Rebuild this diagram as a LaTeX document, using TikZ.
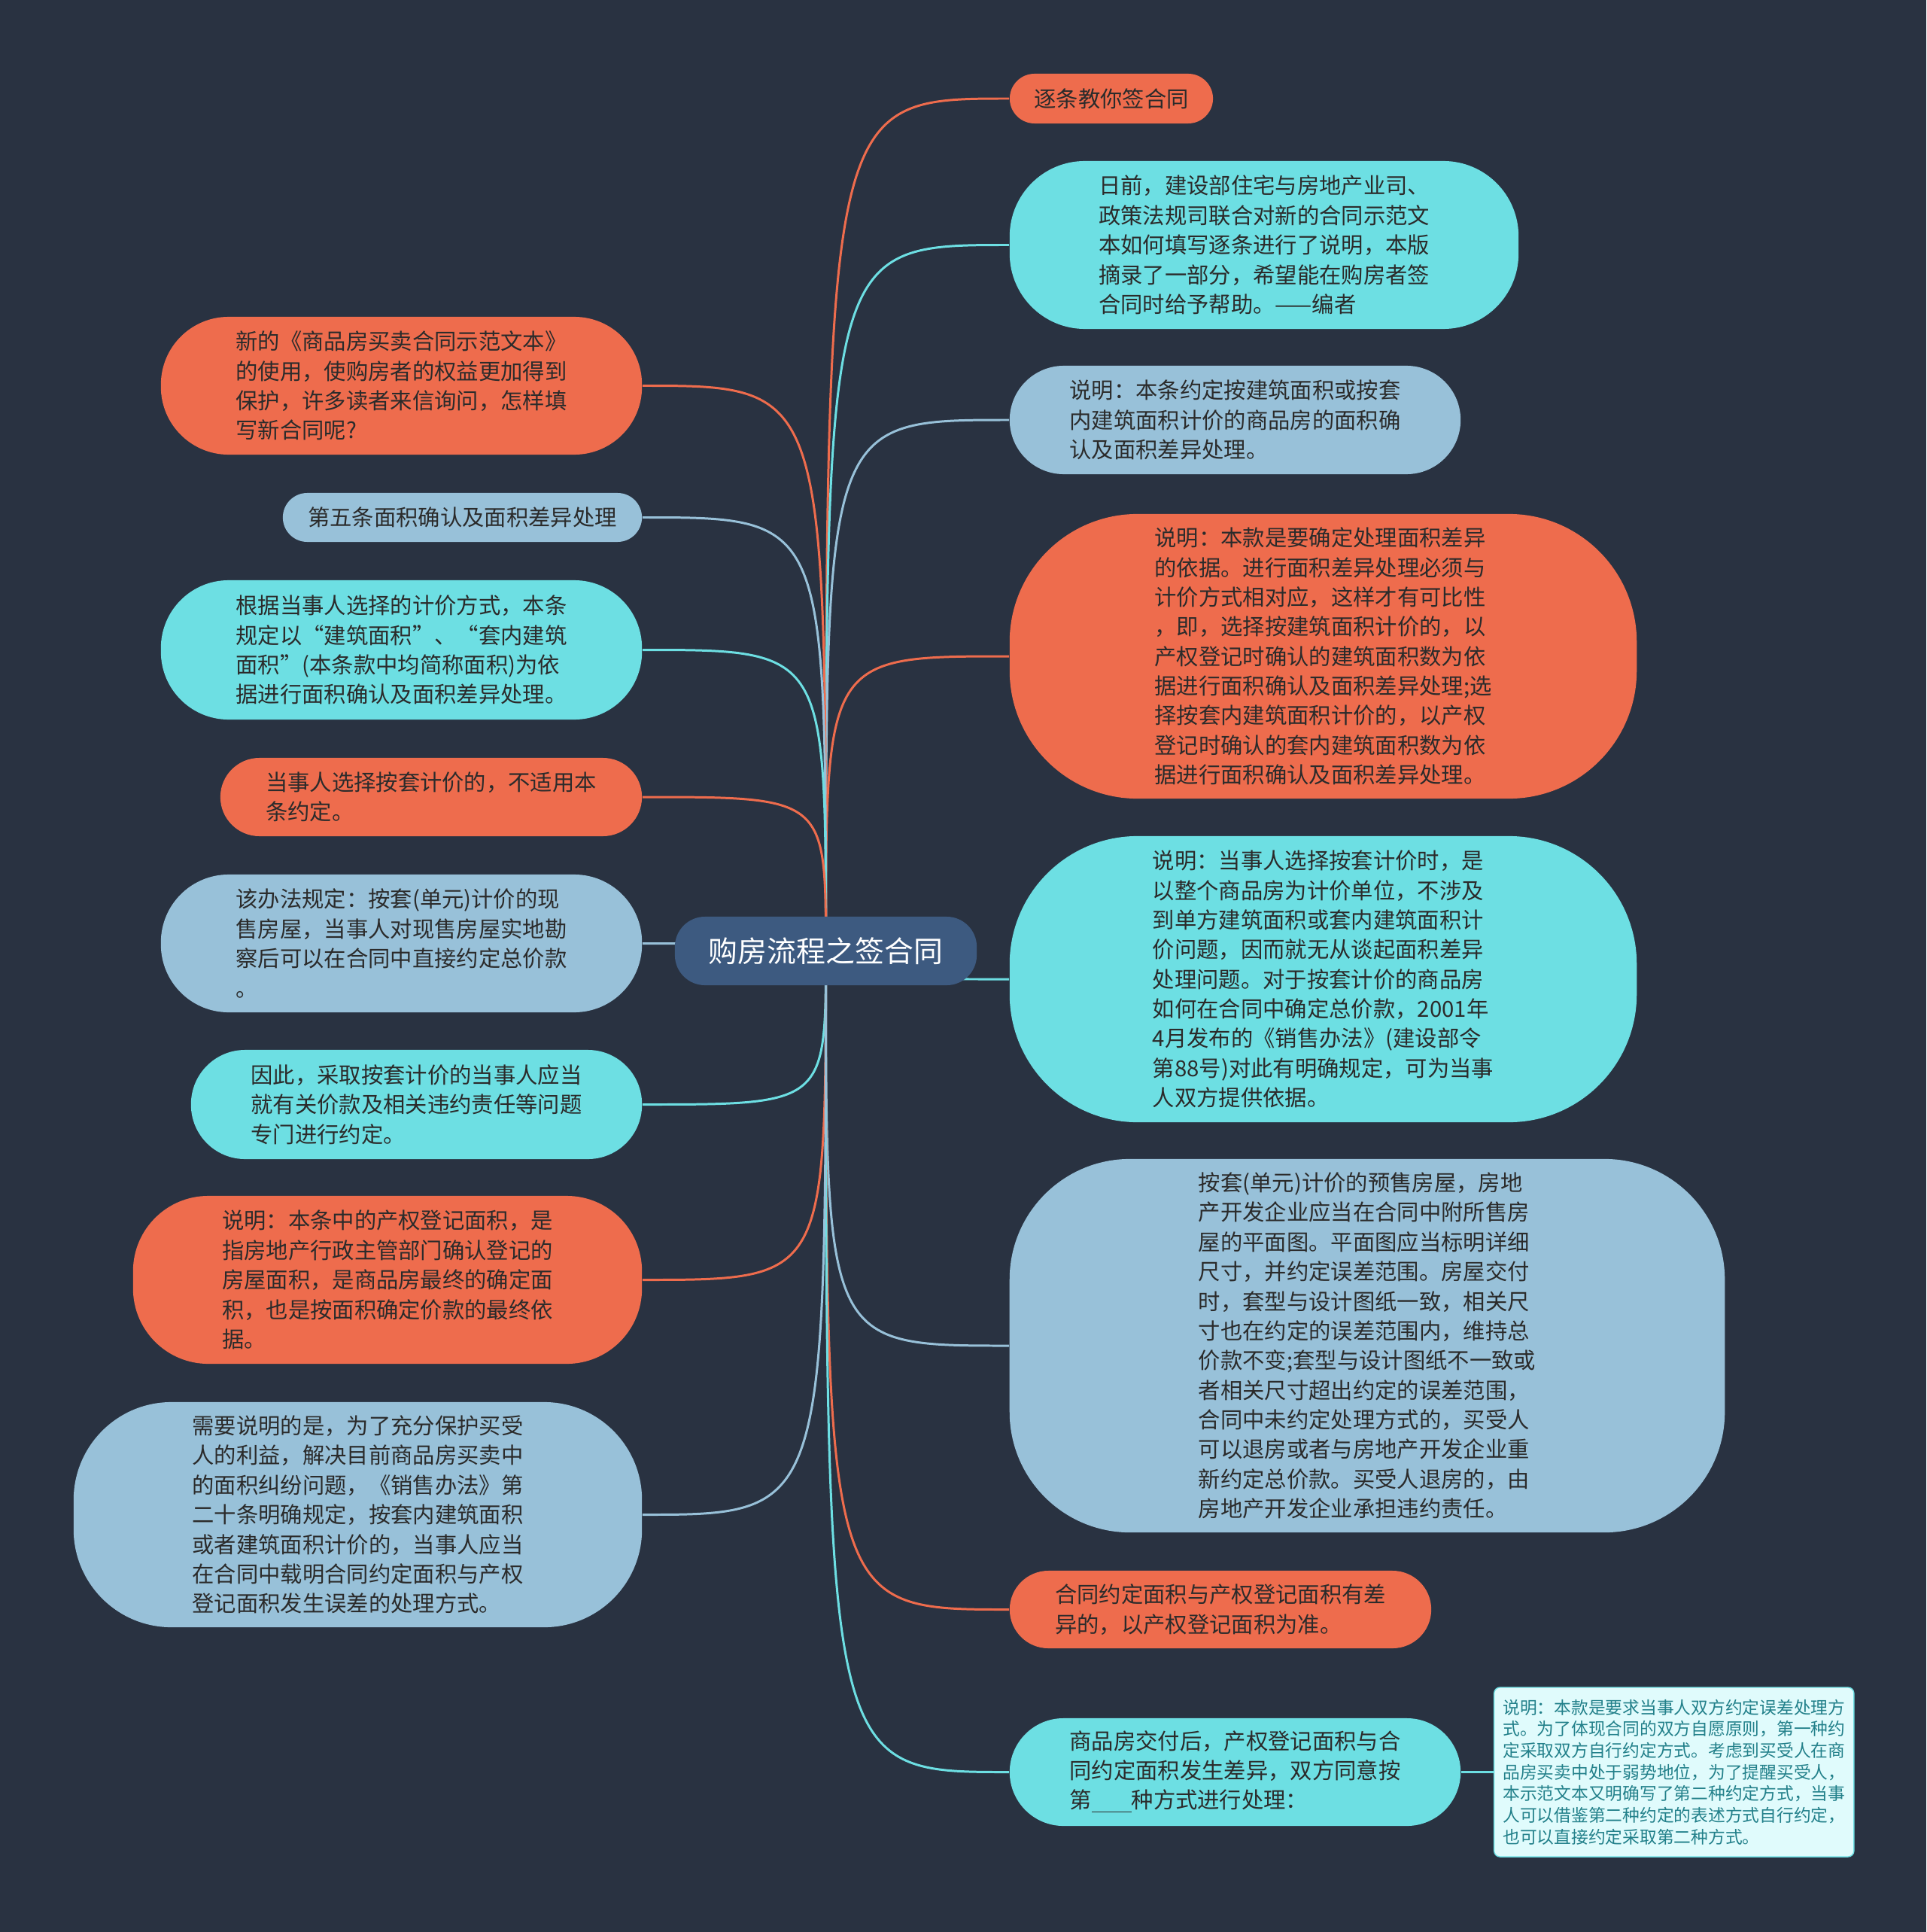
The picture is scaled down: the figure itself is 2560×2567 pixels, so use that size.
\documentclass[tikz,border=0pt]{standalone}
\usepackage{fontspec}
\setmainfont{Noto Sans CJK SC}
\usetikzlibrary{positioning}
\definecolor{bgcol}{HTML}{293241}
\definecolor{hub}{HTML}{3D5A80}
\definecolor{orng}{HTML}{EE6C4D}
\definecolor{cyn}{HTML}{6DDFE3}
\definecolor{lblue}{HTML}{98C1D9}
\definecolor{pale}{HTML}{E0FBFC}
\definecolor{ink}{HTML}{2B2B2B}
\definecolor{teal}{HTML}{22808A}
\pgfdeclarelayer{back}
\pgfdeclarelayer{links}
\pgfsetlayers{back,links,main}

\begin{document}
\begin{tikzpicture}[x=0.01cm, y=-0.01cm,
  topic/.style={rectangle, rounded corners=0.4cm, fill=hub,
    text=white, font=\fontsize{11.06}{13}\selectfont, inner sep=0pt,
    minimum width=4.01cm, minimum height=0.91cm},
  leaf/.style={rectangle, align=left, text=ink, inner sep=0pt,
    font=\fontsize{8.34}{11.2}\selectfont},
  rc/.style={rounded corners=#1},
  memo/.style={draw=cyn, fill=pale, text=teal, rounded corners=0.08cm,
    align=left, inner sep=0pt, font=\fontsize{6.47}{8.15}\selectfont,
    minimum width=4.78cm, minimum height=2.25cm},
  link/.style={line width=0.85pt}
]
\begin{pgfonlayer}{back}
  \fill[bgcol] (0,0) rectangle (2560,2567);
\end{pgfonlayer}
\useasboundingbox (0,0) rectangle (2560,2567);

\node[topic] (c) at (1097.5,1263.5) {购房流程之签合同};

% right branch
\node[leaf, fill=orng, rc=0.33cm, minimum width=2.70cm, minimum height=0.66cm] (r1) at (1477,131) {逐条教你签合同};
\node[leaf, fill=cyn, rc=1.0cm, minimum width=6.76cm, minimum height=2.23cm] (r2) at (1680,325.5)
  {日前，建设部住宅与房地产业司、\\政策法规司联合对新的合同示范文\\本如何填写逐条进行了说明，本版\\摘录了一部分，希望能在购房者签\\合同时给予帮助。——编者};
\node[leaf, fill=lblue, rc=0.72cm, minimum width=5.99cm, minimum height=1.44cm] (r3) at (1641.5,558)
  {说明：本条约定按建筑面积或按套\\内建筑面积计价的商品房的面积确\\认及面积差异处理。};
\node[leaf, fill=orng, rc=1.7cm, minimum width=8.33cm, minimum height=3.78cm] (r4) at (1758.5,872)
  {说明：本款是要确定处理面积差异\\的依据。进行面积差异处理必须与\\计价方式相对应，这样才有可比性\\，即，选择按建筑面积计价的，以\\产权登记时确认的建筑面积数为依\\据进行面积确认及面积差异处理;选\\择按套内建筑面积计价的，以产权\\登记时确认的套内建筑面积数为依\\据进行面积确认及面积差异处理。};
\node[leaf, fill=cyn, rc=1.7cm, minimum width=8.33cm, minimum height=3.80cm] (r5) at (1758.5,1301)
  {说明：当事人选择按套计价时，是\\以整个商品房为计价单位，不涉及\\到单方建筑面积或套内建筑面积计\\价问题，因而就无从谈起面积差异\\处理问题。对于按套计价的商品房\\如何在合同中确定总价款，2001年\\4月发布的《销售办法》(建设部令\\第88号)对此有明确规定，可为当事\\人双方提供依据。};
\node[leaf, fill=lblue, rc=1.6cm, minimum width=9.50cm, minimum height=4.96cm] (r6) at (1817,1788)
  {按套(单元)计价的预售房屋，房地\\产开发企业应当在合同中附所售房\\屋的平面图。平面图应当标明详细\\尺寸，并约定误差范围。房屋交付\\时，套型与设计图纸一致，相关尺\\寸也在约定的误差范围内，维持总\\价款不变;套型与设计图纸不一致或\\者相关尺寸超出约定的误差范围，\\合同中未约定处理方式的，买受人\\可以退房或者与房地产开发企业重\\新约定总价款。买受人退房的，由\\房地产开发企业承担违约责任。};
\node[leaf, fill=orng, rc=0.515cm, minimum width=5.60cm, minimum height=1.03cm] (r7) at (1622,2138.5)
  {合同约定面积与产权登记面积有差\\异的，以产权登记面积为准。};
\node[leaf, fill=cyn, rc=0.715cm, minimum width=5.99cm, minimum height=1.43cm] (r8) at (1641.5,2354.5)
  {商品房交付后，产权登记面积与合\\同约定面积发生差异，双方同意按\\第\underline{\hspace{1.8em}}种方式进行处理：};
\node[memo, right=0.43cm of r8] (n8)
  {说明：本款是要求当事人双方约定误差处理方\\式。为了体现合同的双方自愿原则，第一种约\\定采取双方自行约定方式。考虑到买受人在商\\品房买卖中处于弱势地位，为了提醒买受人，\\本示范文本又明确写了第二种约定方式，当事\\人可以借鉴第二种约定的表述方式自行约定，\\也可以直接约定采取第二种方式。};

% left branch
\node[leaf, fill=orng, rc=0.9cm, minimum width=6.39cm, minimum height=1.83cm] (l1) at (533.5,512.5)
  {新的《商品房买卖合同示范文本》\\的使用，使购房者的权益更加得到\\保护，许多读者来信询问，怎样填\\写新合同呢?};
\node[leaf, fill=lblue, rc=0.325cm, minimum width=4.77cm, minimum height=0.65cm] (l2) at (614.5,687.5) {第五条面积确认及面积差异处理};
\node[leaf, fill=cyn, rc=0.9cm, minimum width=6.39cm, minimum height=1.85cm] (l3) at (533.5,863.5)
  {根据当事人选择的计价方式，本条\\规定以“建筑面积”、“套内建筑\\面积”(本条款中均简称面积)为依\\据进行面积确认及面积差异处理。};
\node[leaf, fill=orng, rc=0.52cm, minimum width=5.60cm, minimum height=1.04cm] (l4) at (573,1059)
  {当事人选择按套计价的，不适用本\\条约定。};
\node[leaf, fill=lblue, rc=0.9cm, minimum width=6.39cm, minimum height=1.83cm] (l5) at (533.5,1253.5)
  {该办法规定：按套(单元)计价的现\\售房屋，当事人对现售房屋实地勘\\察后可以在合同中直接约定总价款\\。};
\node[leaf, fill=cyn, rc=0.72cm, minimum width=5.99cm, minimum height=1.45cm] (l6) at (553.5,1467.5)
  {因此，采取按套计价的当事人应当\\就有关价款及相关违约责任等问题\\专门进行约定。};
\node[leaf, fill=orng, rc=1.0cm, minimum width=6.76cm, minimum height=2.23cm] (l7) at (515,1700.5)
  {说明：本条中的产权登记面积，是\\指房地产行政主管部门确认登记的\\房屋面积，是商品房最终的确定面\\积，也是按面积确定价款的最终依\\据。};
\node[leaf, fill=lblue, rc=1.3cm, minimum width=7.55cm, minimum height=2.99cm] (l8) at (475.5,2012.5)
  {需要说明的是，为了充分保护买受\\人的利益，解决目前商品房买卖中\\的面积纠纷问题，《销售办法》第\\二十条明确规定，按套内建筑面积\\或者建筑面积计价的，当事人应当\\在合同中载明合同约定面积与产权\\登记面积发生误差的处理方式。};

% connectors
\begin{pgfonlayer}{links}
  \foreach \n/\col in {r1/orng, r2/cyn, r3/lblue, r4/orng, r5/cyn, r6/lblue, r7/orng, r8/cyn}
    \draw[link, \col] (c.center) .. controls (c.center |- \n.west) and (c.center |- \n.west) .. (\n.west);
  \foreach \n/\col in {l1/orng, l2/lblue, l3/cyn, l4/orng, l5/lblue, l6/cyn, l7/orng, l8/lblue}
    \draw[link, \col] (c.center) .. controls (c.center |- \n.east) and (c.center |- \n.east) .. (\n.east);
  \draw[link, cyn] (r8.east) -- (n8.west);
\end{pgfonlayer}
\end{tikzpicture}
\end{document}
